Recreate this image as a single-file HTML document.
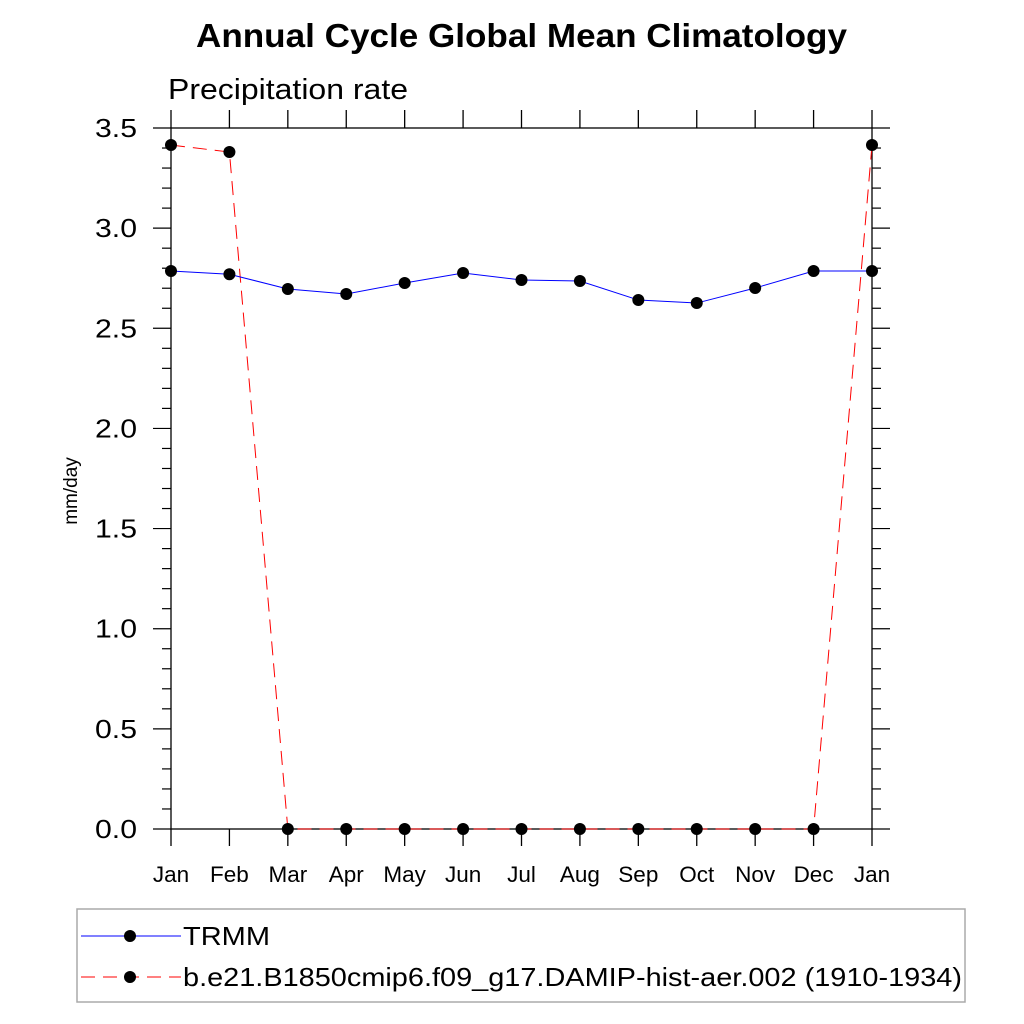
<!DOCTYPE html>
<html><head><meta charset="utf-8"><style>
body{margin:0;background:#fff;}
svg{display:block;font-family:"Liberation Sans",sans-serif;}
</style></head><body>
<svg id="chart" width="1024" height="1024" viewBox="0 0 1024 1024">
<text x="196" y="47" font-size="33" font-weight="bold" textLength="651" lengthAdjust="spacingAndGlyphs">Annual Cycle Global Mean Climatology</text>
<text x="168" y="99" font-size="29" textLength="240" lengthAdjust="spacingAndGlyphs">Precipitation rate</text>
<text transform="translate(77,491) rotate(-90)" text-anchor="middle" font-size="19">mm/day</text>
<g id="axes"></g>
<g id="series"></g>
<rect x="77" y="909" width="888" height="93" fill="none" stroke="#aaa" stroke-width="1.5"/>
<g>
<line x1="81" y1="936" x2="181" y2="936" stroke="#0000ff" stroke-width="1"/>
<circle cx="130" cy="936" r="6" fill="#000"/>
<text x="183" y="945" font-size="26" textLength="87" lengthAdjust="spacingAndGlyphs">TRMM</text>
</g>
<g>
<line x1="81" y1="977" x2="181" y2="977" stroke="#ff0000" stroke-width="1" stroke-dasharray="14,8"/>
<circle cx="130" cy="977" r="6" fill="#000"/>
<text x="183" y="986" font-size="26" textLength="779" lengthAdjust="spacingAndGlyphs">b.e21.B1850cmip6.f09_g17.DAMIP-hist-aer.002 (1910-1934)</text>
</g>
</svg>
<script>
const months = ["Jan","Feb","Mar","Apr","May","Jun","Jul","Aug","Sep","Oct","Nov","Dec","Jan"];
const trmm = [2.786,2.77,2.696,2.671,2.726,2.776,2.741,2.736,2.641,2.626,2.701,2.786,2.786];
const model = [3.415,3.38,0,0,0,0,0,0,0,0,0,0,3.415];
const yTicks = ["0.0","0.5","1.0","1.5","2.0","2.5","3.0","3.5"];
const yMin = 0, yMax = 3.5;
const L=171,R=872,T=128,B=829;
const NS="http://www.w3.org/2000/svg";
function xs(i){return L+(R-L)*i/(months.length-1);}
function ys(v){return B-(B-T)*(v-yMin)/(yMax-yMin);}
function mk(tag,attrs,parent){const e=document.createElementNS(NS,tag);for(const k in attrs)e.setAttribute(k,attrs[k]);parent.appendChild(e);return e;}
const ax=document.getElementById('axes');
let f=mk('rect',{x:L,y:T,width:R-L,height:B-T,fill:'none',stroke:'#000','stroke-width':1.3},ax);


months.forEach((m,i)=>{
  const x=xs(i);
  mk('line',{x1:x,y1:B,x2:x,y2:B+17,stroke:'#000','stroke-width':1.3},ax);
  mk('line',{x1:x,y1:T,x2:x,y2:T-18,stroke:'#000','stroke-width':1.3},ax);
  const t=mk('text',{x:x,y:B+53,'text-anchor':'middle','font-size':22.5},ax);
  t.textContent=m;
  
  
});
for(let k=0;k<=35;k++){
  const v=k*0.1,y=ys(v),major=(k%5===0);
  const len=major?18:9;
  mk('line',{x1:L-len,y1:y,x2:L,y2:y,stroke:'#000','stroke-width':1.2},ax);
  mk('line',{x1:R,y1:y,x2:R+len,y2:y,stroke:'#000','stroke-width':1.2},ax);
}
yTicks.forEach(s=>{
  const t=mk('text',{x:L-34,y:ys(parseFloat(s))+9,'text-anchor':'end','font-size':26,textLength:42,lengthAdjust:'spacingAndGlyphs'},ax);
  t.textContent=s;
  
  
});
const sg=document.getElementById('series');
function drawSeries(vals,color,dash,name){
  const g=mk('g',{},sg);
  
  
  const pts=vals.map((v,i)=>xs(i)+','+ys(v)).join(' ');
  const a={points:pts,fill:'none',stroke:color,'stroke-width':1};
  if(dash)a['stroke-dasharray']=dash;
  mk('polyline',a,g);
  vals.forEach((v,i)=>{
    const c=mk('circle',{cx:xs(i),cy:ys(v),r:6,fill:'#000'},g);
    
    
  });
}
drawSeries(model,'#ff0000','14,8','model-series');
drawSeries(trmm,'#0000ff',null,'trmm-series');
</script>
</body></html>
